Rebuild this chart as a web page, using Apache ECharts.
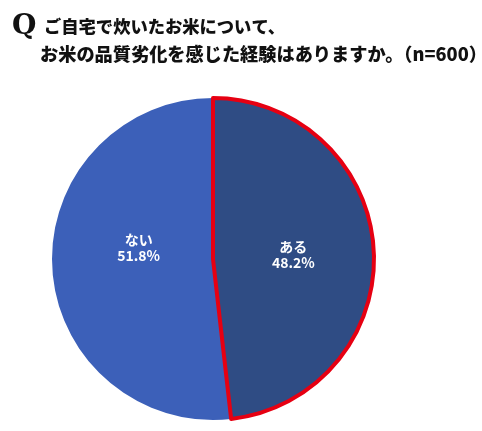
<!DOCTYPE html>
<html><head><meta charset="utf-8">
<script src="https://cdn.jsdelivr.net/npm/echarts@6/dist/echarts.min.js"></script>
<style>html,body{margin:0;padding:0;background:#fff}#c{width:482px;height:431px}</style>
</head><body><div id="c"></div>
<script>
const categories = ['ない', 'ある'];
const values = [51.8, 48.2];
const titleLine1 = 'ご自宅で炊いたお米について、';
const titleLine2 = 'お米の品質劣化を感じた経験はありますか。（n=600）';

const chart = echarts.init(document.getElementById('c'));
const font = '"Noto Sans CJK JP", "Noto Sans", sans-serif';
chart.setOption({
  animation: false,
  graphic: [
    { type: 'text', left: 12, top: 13, style: { text: 'Q', font: 'bold 28px "DejaVu Serif", "Liberation Serif", serif', fill: '#111' } },
    { type: 'text', left: 44, top: 18, style: { text: titleLine1, font: '900 17.3px ' + font, fill: '#111' } },
    { type: 'text', left: 40, top: 45, style: { text: titleLine2, font: '900 18.2px ' + font, fill: '#111' } }
  ],
  series: [{
    type: 'pie',
    center: [213, 259],
    radius: [0, 161],
    startAngle: 90,
    clockwise: false,
    label: {
      show: true,
      position: 'inside',
      color: '#fff',
      fontWeight: 'bold',
      fontSize: 14,
      fontFamily: font,
      lineHeight: 16,
      formatter: p => p.name + '\n' + p.value.toFixed(1) + '%'
    },
    labelLayout: p => (p.dataIndex === 0 ? { dx: 9, dy: -16 } : { dx: -3, dy: 0 }),
    labelLine: { show: false },
    emphasis: { disabled: true },
    data: [
      { name: categories[0], value: values[0], itemStyle: { color: '#3C60B9', borderWidth: 0 } },
      { name: categories[1], value: values[1], itemStyle: { color: '#2F4C84', borderColor: '#E60012', borderWidth: 4 } }
    ]
  }]
});
</script></body></html>
